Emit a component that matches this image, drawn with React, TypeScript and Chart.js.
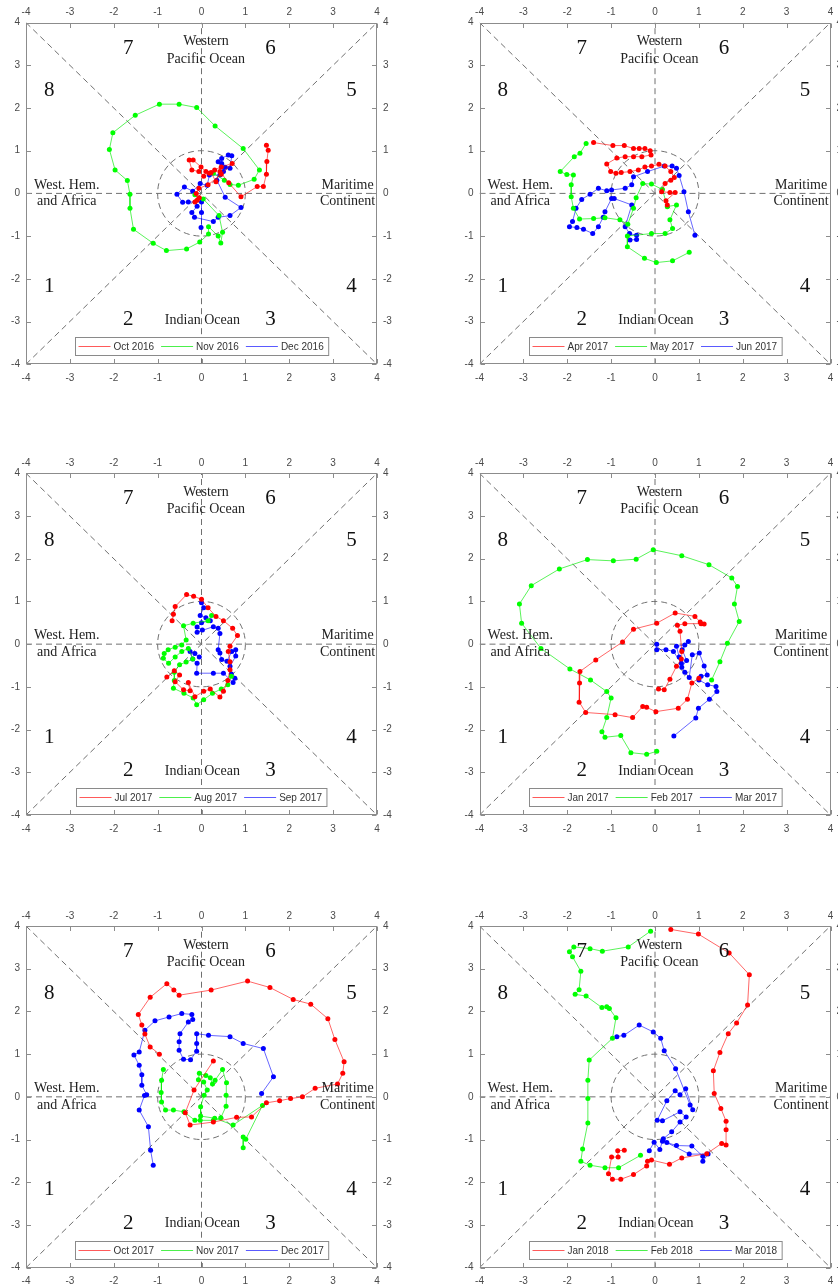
import React, { useEffect, useRef } from 'react';
import { Chart, registerables } from 'chart.js';

Chart.register(...registerables);

type P = [number, number];

// ---------- tick values ----------
const tickValues = [-4, -3, -2, -1, 0, 1, 2, 3, 4];

// ---------- data (RMM1, RMM2) ----------
// Panel: Oct–Dec 2016
const oct2016: P[] = [[1.48,1.13],[1.52,1.01],[1.49,0.75],[1.48,0.45],[1.41,0.16],[1.27,0.16],[0.9,-0.08],[0.62,0.25],[0.42,0.51],[0.33,0.27],[0.22,0.49],[0.1,0.51],[-0.01,0.62],[-0.19,0.78],[-0.28,0.78],[-0.22,0.55],[-0.06,0.51],[0.05,0.4],[0.18,0.47],[0.3,0.55],[0.45,0.62],[0.7,0.7],[0.45,0.45],[0.15,0.2],[-0.06,0.12],[-0.12,0.0],[-0.1,-0.16],[-0.15,-0.2],[-0.05,-0.1]];
const nov2016: P[] = [[0.27,0.47],[0.52,0.31],[0.65,0.21],[0.84,0.19],[1.2,0.33],[1.32,0.55],[0.95,1.05],[0.31,1.58],[-0.11,2.01],[-0.51,2.09],[-0.96,2.09],[-1.51,1.83],[-2.02,1.42],[-2.1,1.03],[-1.97,0.55],[-1.69,0.3],[-1.63,-0.02],[-1.63,-0.35],[-1.55,-0.84],[-1.1,-1.17],[-0.8,-1.34],[-0.34,-1.3],[-0.04,-1.14],[0.16,-0.95],[0.16,-0.78],[0.38,-1.0],[0.44,-1.16],[0.48,-0.91],[0.4,-0.52],[0.04,-0.13],[-0.15,-0.03]];
const dec2016: P[] = [[-0.01,-0.8],[0.0,-0.45],[0.0,-0.2],[-0.3,-0.2],[-0.43,-0.21],[-0.56,-0.02],[-0.39,0.15],[-0.2,0.05],[-0.03,0.23],[0.13,0.19],[0.18,0.43],[0.42,0.43],[0.5,0.51],[0.54,0.61],[0.38,0.74],[0.46,0.82],[0.61,0.9],[0.69,0.88],[0.65,0.59],[0.46,0.7],[0.35,0.31],[0.54,-0.09],[0.9,-0.33],[0.65,-0.52],[0.38,-0.56],[0.27,-0.66],[-0.16,-0.56],[-0.22,-0.45],[-0.1,-0.3]];

// Panel: Apr–Jun 2017
const apr2017: P[] = [[-1.4,1.19],[-0.96,1.12],[-0.7,1.12],[-0.49,1.05],[-0.36,1.05],[-0.23,1.05],[-0.11,1.0],[-0.09,0.9],[-0.3,0.86],[-0.49,0.86],[-0.68,0.86],[-0.87,0.83],[-1.1,0.69],[-1.01,0.51],[-0.89,0.47],[-0.77,0.49],[-0.57,0.51],[-0.38,0.55],[-0.23,0.62],[-0.08,0.64],[0.09,0.68],[0.23,0.64],[0.36,0.51],[0.44,0.37],[0.36,0.31],[0.23,0.23],[0.15,0.04],[0.34,0.02],[0.46,0.02],[0.25,-0.17],[0.28,-0.27]];
const may2017: P[] = [[-1.57,1.17],[-1.71,0.94],[-1.84,0.86],[-2.16,0.51],[-2.01,0.44],[-1.86,0.43],[-1.91,0.2],[-1.91,-0.08],[-1.86,-0.35],[-1.72,-0.6],[-1.4,-0.59],[-1.14,-0.57],[-0.8,-0.62],[-0.62,-0.72],[-0.49,-0.35],[-0.43,-0.1],[-0.28,0.23],[-0.08,0.22],[0.17,0.09],[0.28,-0.31],[0.49,-0.27],[0.34,-0.62],[0.4,-0.82],[0.23,-0.94],[-0.08,-0.94],[-0.63,-1.0],[-0.63,-1.25],[-0.24,-1.52],[0.03,-1.62],[0.4,-1.58],[0.78,-1.38]];
const jun2017: P[] = [[0.91,-0.98],[0.76,-0.43],[0.66,0.04],[0.55,0.42],[0.49,0.59],[0.39,0.64],[0.21,0.64],[-0.17,0.51],[-0.49,0.39],[-0.53,0.2],[-0.68,0.12],[-0.99,0.08],[-1.1,0.06],[-1.29,0.12],[-1.48,-0.02],[-1.67,-0.14],[-1.8,-0.35],[-1.88,-0.66],[-1.95,-0.78],[-1.78,-0.8],[-1.63,-0.84],[-1.42,-0.94],[-1.29,-0.78],[-1.18,-0.56],[-1.14,-0.43],[-0.99,-0.12],[-0.93,-0.12],[-0.53,-0.27],[-0.68,-0.78],[-0.58,-0.94],[-0.42,-0.98],[-0.42,-1.08],[-0.57,-1.09]];

// Panel: Jul–Sep 2017
const jul2017: P[] = [[-0.79,-0.77],[-0.62,-0.62],[-0.5,-0.72],[-0.6,-0.88],[-0.41,-1.07],[-0.26,-1.09],[-0.3,-0.9],[-0.15,-1.23],[0.05,-1.1],[0.2,-1.05],[0.42,-1.24],[0.5,-1.1],[0.6,-0.85],[0.65,-0.6],[0.65,-0.41],[0.61,-0.17],[0.65,-0.05],[0.82,0.2],[0.71,0.37],[0.5,0.55],[0.33,0.65],[0.15,0.85],[0.0,1.05],[-0.18,1.12],[-0.34,1.16],[-0.6,0.88],[-0.64,0.7],[-0.67,0.55]];
const aug2017: P[] = [[0.23,0.67],[0.15,0.55],[-0.19,0.49],[-0.41,0.43],[-0.35,0.1],[-0.45,-0.02],[-0.6,-0.07],[-0.76,-0.13],[-0.85,-0.22],[-0.87,-0.33],[-0.75,-0.45],[-0.6,-0.3],[-0.45,-0.17],[-0.3,-0.1],[-0.2,-0.35],[-0.35,-0.42],[-0.5,-0.48],[-0.62,-0.66],[-0.62,-0.85],[-0.64,-1.03],[-0.4,-1.15],[-0.19,-1.26],[-0.11,-1.42],[0.05,-1.3],[0.25,-1.15],[0.45,-1.05],[0.6,-0.95],[0.68,-0.75]];
const sep2017: P[] = [[0.0,0.97],[0.05,0.85],[-0.03,0.67],[0.1,0.62],[0.2,0.55],[0.0,0.5],[-0.1,0.4],[0.02,0.33],[-0.1,0.28],[0.27,0.41],[0.38,0.37],[0.42,0.25],[0.38,-0.13],[0.42,-0.21],[0.46,-0.36],[0.58,-0.4],[0.69,-0.17],[0.78,-0.13],[0.78,-0.28],[0.65,-0.52],[0.68,-0.7],[0.76,-0.8],[0.72,-0.9],[0.5,-0.68],[0.27,-0.68],[-0.11,-0.68],[-0.1,-0.45],[-0.2,-0.35],[-0.26,-0.17],[-0.15,-0.22],[-0.05,-0.3]];

// Panel: Jan–Mar 2017
const jan2017: P[] = [[0.08,-1.05],[0.21,-1.07],[0.34,-0.82],[0.49,-0.52],[0.6,-0.35],[0.61,-0.17],[0.57,0.3],[0.51,0.44],[0.68,0.48],[1.05,0.48],[1.12,0.47],[1.03,0.52],[0.91,0.65],[0.46,0.73],[0.04,0.49],[-0.49,0.35],[-0.74,0.05],[-1.35,-0.37],[-1.71,-0.64],[-1.72,-0.91],[-1.73,-1.36],[-1.58,-1.6],[-0.91,-1.65],[-0.51,-1.72],[-0.28,-1.46],[-0.19,-1.48],[0.02,-1.58],[0.53,-1.5],[0.74,-1.29],[0.84,-0.91],[1.0,-0.8]];
const feb2017: P[] = [[1.29,-0.84],[1.48,-0.41],[1.65,0.02],[1.92,0.53],[1.81,0.94],[1.88,1.35],[1.75,1.55],[1.23,1.86],[0.61,2.07],[-0.04,2.21],[-0.43,1.99],[-0.95,1.95],[-1.54,1.98],[-2.18,1.76],[-2.82,1.37],[-3.09,0.94],[-3.04,0.49],[-2.6,-0.1],[-1.94,-0.58],[-1.47,-0.84],[-1.1,-1.11],[-1.0,-1.26],[-1.1,-1.72],[-1.21,-2.05],[-1.14,-2.18],[-0.78,-2.14],[-0.55,-2.54],[-0.19,-2.58],[0.04,-2.51]];
const mar2017: P[] = [[0.43,-2.15],[0.93,-1.73],[0.99,-1.5],[1.24,-1.29],[1.41,-1.11],[1.39,-0.99],[1.2,-0.95],[1.0,-0.84],[1.05,-0.75],[1.19,-0.72],[1.12,-0.51],[1.01,-0.21],[0.85,-0.25],[0.78,-0.78],[0.68,-0.66],[0.61,-0.54],[0.72,-0.38],[0.62,-0.13],[0.76,0.06],[0.68,-0.02],[0.49,-0.05],[0.55,-0.3],[0.6,-0.45],[0.42,-0.17],[0.25,-0.13],[0.04,-0.13],[0.04,0.0]];

// Panel: Oct–Dec 2017
const oct2017: P[] = [[0.27,0.84],[-0.17,0.16],[-0.37,-0.37],[-0.26,-0.66],[0.27,-0.59],[0.8,-0.48],[1.14,-0.47],[1.48,-0.14],[1.78,-0.09],[2.03,-0.04],[2.3,0.0],[2.59,0.2],[3.1,0.3],[3.22,0.55],[3.25,0.82],[3.04,1.34],[2.88,1.83],[2.49,2.17],[2.09,2.28],[1.56,2.56],[1.05,2.71],[0.22,2.5],[-0.51,2.38],[-0.63,2.5],[-0.79,2.65],[-1.17,2.33],[-1.44,1.93],[-1.36,1.68],[-1.29,1.47],[-1.17,1.17],[-0.96,1.0]];
const nov2017: P[] = [[-0.87,0.64],[-0.91,0.39],[-0.92,0.1],[-0.91,-0.12],[-0.82,-0.31],[-0.64,-0.31],[-0.4,-0.35],[-0.15,-0.55],[-0.03,-0.55],[0.27,-0.55],[0.44,-0.49],[0.56,-0.22],[0.56,0.04],[0.57,0.33],[0.48,0.64],[0.31,0.39],[0.25,0.3],[0.2,0.45],[0.1,0.5],[-0.05,0.55],[-0.07,0.4],[0.05,0.35],[0.13,0.16],[0.06,0.04],[-0.02,-0.23],[-0.02,-0.45],[0.3,-0.5],[0.72,-0.66],[1.39,-0.2],[1.01,-0.99],[0.95,-0.94],[0.95,-1.19]];
const dec2017: P[] = [[1.37,0.08],[1.64,0.47],[1.41,1.13],[0.95,1.25],[0.65,1.41],[0.16,1.44],[-0.11,1.48],[-0.11,1.25],[-0.11,1.07],[-0.25,0.87],[-0.41,0.88],[-0.51,1.09],[-0.51,1.29],[-0.49,1.48],[-0.3,1.75],[-0.2,1.81],[-0.22,1.93],[-0.45,1.95],[-0.74,1.87],[-1.06,1.78],[-1.29,1.56],[-1.42,1.05],[-1.54,0.98],[-1.42,0.74],[-1.36,0.52],[-1.36,0.27],[-1.25,0.05],[-1.3,0.03],[-1.42,-0.31],[-1.21,-0.7],[-1.16,-1.25],[-1.1,-1.6]];

// Panel: Jan–Mar 2018
const jan2018: P[] = [[-0.7,-1.25],[-0.85,-1.26],[-0.84,-1.41],[-0.99,-1.41],[-1.06,-1.8],[-0.97,-1.93],[-0.78,-1.93],[-0.49,-1.82],[-0.19,-1.62],[-0.17,-1.51],[-0.08,-1.48],[0.33,-1.58],[0.61,-1.43],[1.18,-1.33],[1.52,-1.09],[1.62,-1.13],[1.62,-0.77],[1.62,-0.57],[1.5,-0.27],[1.35,0.08],[1.33,0.61],[1.48,1.04],[1.67,1.48],[1.86,1.73],[2.11,2.15],[2.15,2.86],[1.69,3.37],[0.99,3.81],[0.36,3.92]];
const feb2018: P[] = [[-0.33,-1.37],[-0.83,-1.66],[-1.14,-1.66],[-1.48,-1.6],[-1.69,-1.51],[-1.65,-1.22],[-1.53,-0.61],[-1.53,-0.04],[-1.53,0.39],[-1.5,0.86],[-0.97,1.37],[-0.89,1.85],[-1.04,2.07],[-1.1,2.11],[-1.21,2.09],[-1.57,2.36],[-1.82,2.4],[-1.73,2.51],[-1.69,2.94],[-1.88,3.28],[-1.95,3.4],[-1.85,3.51],[-1.48,3.47],[-1.2,3.41],[-0.61,3.51],[-0.1,3.88]];
const mar2018: P[] = [[-0.13,-1.26],[-0.02,-1.06],[0.11,-1.23],[0.17,-1.04],[0.49,-1.14],[0.84,-1.15],[1.09,-1.39],[1.09,-1.51],[1.21,-1.34],[0.78,-1.34],[0.27,-1.07],[0.19,-0.98],[0.38,-0.82],[0.57,-0.59],[0.71,-0.47],[0.57,-0.35],[0.17,-0.56],[0.05,-0.55],[0.27,-0.09],[0.46,0.14],[0.57,0.05],[0.7,0.19],[0.86,-0.3],[0.8,-0.19],[0.47,0.66],[0.21,1.08],[0.13,1.37],[-0.04,1.52],[-0.36,1.68],[-0.71,1.44],[-0.87,1.41]];

// ---------- labels ----------
const phaseLabels: [string, number, number][] = [
  ['1', -3.47, -2.18], ['2', -1.67, -2.96], ['3', 1.57, -2.96], ['4', 3.42, -2.18],
  ['5', 3.42, 2.42], ['6', 1.57, 3.4], ['7', -1.67, 3.4], ['8', -3.47, 2.42],
];
const regionLabels: [string, number, number][] = [
  ['Western', 0.1, 3.55], ['Pacific Ocean', 0.1, 3.15], ['Indian Ocean', 0.02, -2.97],
  ['West. Hem.', -3.07, 0.2], ['and Africa', -3.07, -0.19],
  ['Maritime', 3.33, 0.2], ['Continent', 3.33, -0.19],
];

// ---------- styles & layout ----------
const POINT_COLORS = ['#ff0000', '#00ff00', '#0000ff'];
const LINE_COLORS = ['rgba(255,0,0,0.6)', 'rgba(0,235,0,0.65)', 'rgba(0,0,255,0.6)'];
const LEGEND_COLORS = ['#ff5a5a', '#4cf04c', '#5a5aff'];
const SANS = '"Liberation Sans", Arial, sans-serif';
const SERIF = '"Liberation Serif", "Times New Roman", serif';
const CANVAS_W = 419;
const COLS = [
  { L: 0, PL: 26, PR: 377 },
  { L: 419, PL: 479.5, PR: 830.5 },
];
const ROWS = [
  { T: 0, H: 451, PT: 22.6, PB: 364.2 },
  { T: 451, H: 451, PT: 473.3, PB: 815 },
  { T: 902, H: 384, PT: 926, PB: 1267.7 },
];

interface PanelCfg { row: number; col: number; months: string[]; series: P[][] }

const PANELS: PanelCfg[] = [
  { row: 0, col: 0, months: ['Oct 2016', 'Nov 2016', 'Dec 2016'], series: [oct2016, nov2016, dec2016] },
  { row: 0, col: 1, months: ['Apr 2017', 'May 2017', 'Jun 2017'], series: [apr2017, may2017, jun2017] },
  { row: 1, col: 0, months: ['Jul 2017', 'Aug 2017', 'Sep 2017'], series: [jul2017, aug2017, sep2017] },
  { row: 1, col: 1, months: ['Jan 2017', 'Feb 2017', 'Mar 2017'], series: [jan2017, feb2017, mar2017] },
  { row: 2, col: 0, months: ['Oct 2017', 'Nov 2017', 'Dec 2017'], series: [oct2017, nov2017, dec2017] },
  { row: 2, col: 1, months: ['Jan 2018', 'Feb 2018', 'Mar 2018'], series: [jan2018, feb2018, mar2018] },
];

function makeDecor(months: string[]) {
  return {
    id: 'mjoDecor',
    beforeDatasetsDraw(chart: any) {
      const { ctx, chartArea: a } = chart;
      const xs = chart.scales.x, ys = chart.scales.y;
      const px = (v: number) => xs.getPixelForValue(v);
      const py = (v: number) => ys.getPixelForValue(v);
      ctx.save();
      ctx.beginPath();
      ctx.rect(a.left, a.top, a.right - a.left, a.bottom - a.top);
      ctx.clip();
      ctx.strokeStyle = '#707070';
      ctx.lineWidth = 1;
      ctx.setLineDash([6, 4]);
      const seg = (x1: number, y1: number, x2: number, y2: number) => {
        ctx.beginPath();
        ctx.moveTo(px(x1), py(y1));
        ctx.lineTo(px(x2), py(y2));
        ctx.stroke();
      };
      seg(-4, -4, 4, 4);
      seg(-4, 4, 4, -4);
      seg(-4, 0, 4, 0);
      seg(0, -4, 0, 4);
      ctx.beginPath();
      ctx.ellipse(px(0), py(0), px(1) - px(0), py(0) - py(1), 0, 0, Math.PI * 2);
      ctx.stroke();
      ctx.restore();
    },
    afterDatasetsDraw(chart: any) {
      const { ctx } = chart;
      const xs = chart.scales.x, ys = chart.scales.y;
      const px = (v: number) => xs.getPixelForValue(v);
      const py = (v: number) => ys.getPixelForValue(v);
      ctx.save();
      ctx.setLineDash([]);
      ctx.textAlign = 'center';
      ctx.textBaseline = 'middle';
      ctx.fillStyle = '#111';
      ctx.font = `21px ${SERIF}`;
      for (const [t, x, y] of phaseLabels) ctx.fillText(t, px(x), py(y));
      ctx.fillStyle = '#222';
      ctx.font = `14px ${SERIF}`;
      for (const [t, x, y] of regionLabels) ctx.fillText(t, px(x), py(y));

      // legend
      ctx.font = `10px ${SANS}`;
      const widths = months.map((m) => ctx.measureText(m).width);
      const lineLen = 32, gap1 = 3, gap2 = 7, padL = 3, padR = 5, bh = 18;
      const total = padL + widths.reduce((s, w) => s + lineLen + gap1 + w, 0) + gap2 * (months.length - 1) + padR;
      const cx = px(0), cy = Math.round(py(-3.58));
      const bx = Math.round(cx - total / 2) + 0.5;
      const by = cy - bh / 2 + 0.5;
      ctx.fillStyle = '#fff';
      ctx.fillRect(bx, by, total, bh);
      ctx.strokeStyle = '#8a8a8a';
      ctx.lineWidth = 1;
      ctx.strokeRect(bx, by, total, bh);
      let xp = bx + padL;
      ctx.textAlign = 'left';
      months.forEach((m, i) => {
        ctx.strokeStyle = LEGEND_COLORS[i];
        ctx.lineWidth = 1;
        ctx.beginPath();
        ctx.moveTo(xp, cy + 0.5);
        ctx.lineTo(xp + lineLen, cy + 0.5);
        ctx.stroke();
        xp += lineLen + gap1;
        ctx.fillStyle = '#333';
        ctx.fillText(m, xp, cy + 1);
        xp += widths[i] + gap2;
      });
      ctx.restore();
    },
    afterDraw(chart: any) {
      const { ctx, chartArea: a } = chart;
      const xs = chart.scales.x, ys = chart.scales.y;
      ctx.save();
      ctx.setLineDash([]);
      ctx.strokeStyle = '#8c8c8c';
      ctx.lineWidth = 1;
      const l = Math.round(a.left) + 0.5, r = Math.round(a.right) - 0.5;
      const t = Math.round(a.top) + 0.5, b = Math.round(a.bottom) - 0.5;
      ctx.strokeRect(l, t, r - l, b - t);
      const tl = 4.5;
      ctx.beginPath();
      for (const v of tickValues) {
        const x = Math.round(xs.getPixelForValue(v)) + 0.5;
        const y = Math.round(ys.getPixelForValue(v)) + 0.5;
        ctx.moveTo(x, t); ctx.lineTo(x, t + tl);
        ctx.moveTo(x, b); ctx.lineTo(x, b - tl);
        ctx.moveTo(l, y); ctx.lineTo(l + tl, y);
        ctx.moveTo(r, y); ctx.lineTo(r - tl, y);
      }
      ctx.stroke();
      ctx.restore();
    },
  };
}

function Panel({ cfg }: { cfg: PanelCfg }) {
  const ref = useRef<HTMLCanvasElement>(null);
  const c = COLS[cfg.col];
  const r = ROWS[cfg.row];
  useEffect(() => {
    if (!ref.current) return;
    const leftW = c.PL - c.L;
    const rightW = c.L + CANVAS_W - c.PR;
    const topH = r.PT - r.T;
    const botH = r.T + r.H - r.PB;
    const zero = (s: any) => { s.paddingLeft = 0; s.paddingRight = 0; s.paddingTop = 0; s.paddingBottom = 0; };
    const axis = (pos: string, size: number, horizontal: boolean, pad: number) => ({
      type: 'linear',
      position: pos,
      min: -4,
      max: 4,
      grid: { display: false, drawTicks: false },
      border: { display: false },
      ticks: {
        stepSize: 1,
        autoSkip: false,
        maxRotation: 0,
        padding: pad,
        color: '#4a4a4a',
        font: { family: SANS, size: 10 },
        callback: (v: any) => String(v),
      },
      afterFit: (s: any) => {
        if (horizontal) s.height = size; else s.width = size;
        zero(s);
      },
    });
    const chart = new Chart(ref.current, {
      type: 'line',
      data: {
        datasets: cfg.series.map((s, i) => ({
          label: cfg.months[i],
          data: s.map(([x, y]) => ({ x, y })),
          xAxisID: 'x',
          yAxisID: 'y',
          borderColor: LINE_COLORS[i],
          backgroundColor: POINT_COLORS[i],
          pointBackgroundColor: POINT_COLORS[i],
          pointBorderWidth: 0,
          pointRadius: 2.5,
          borderWidth: 1,
          tension: 0,
          showLine: true,
          fill: false,
        })),
      },
      options: {
        responsive: false,
        animation: false,
        events: [],
        layout: { padding: 0 },
        plugins: { legend: { display: false }, tooltip: { enabled: false } },
        scales: {
          x: axis('bottom', botH, true, 8),
          x2: axis('top', topH, true, 4),
          y: axis('left', leftW, false, 6),
          y2: axis('right', rightW, false, 6),
        } as any,
      },
      plugins: [makeDecor(cfg.months)],
    } as any);
    return () => chart.destroy();
  }, []);
  return (
    <canvas
      ref={ref}
      width={CANVAS_W}
      height={r.H}
      style={{ position: 'absolute', left: c.L, top: r.T, width: CANVAS_W, height: r.H }}
    />
  );
}

export default function App() {
  return (
    <div style={{ position: 'absolute', left: 0, top: 0, width: 838, height: 1286, overflow: 'hidden', background: '#fff' }}>
      {PANELS.map((p, i) => (
        <Panel key={i} cfg={p} />
      ))}
    </div>
  );
}
